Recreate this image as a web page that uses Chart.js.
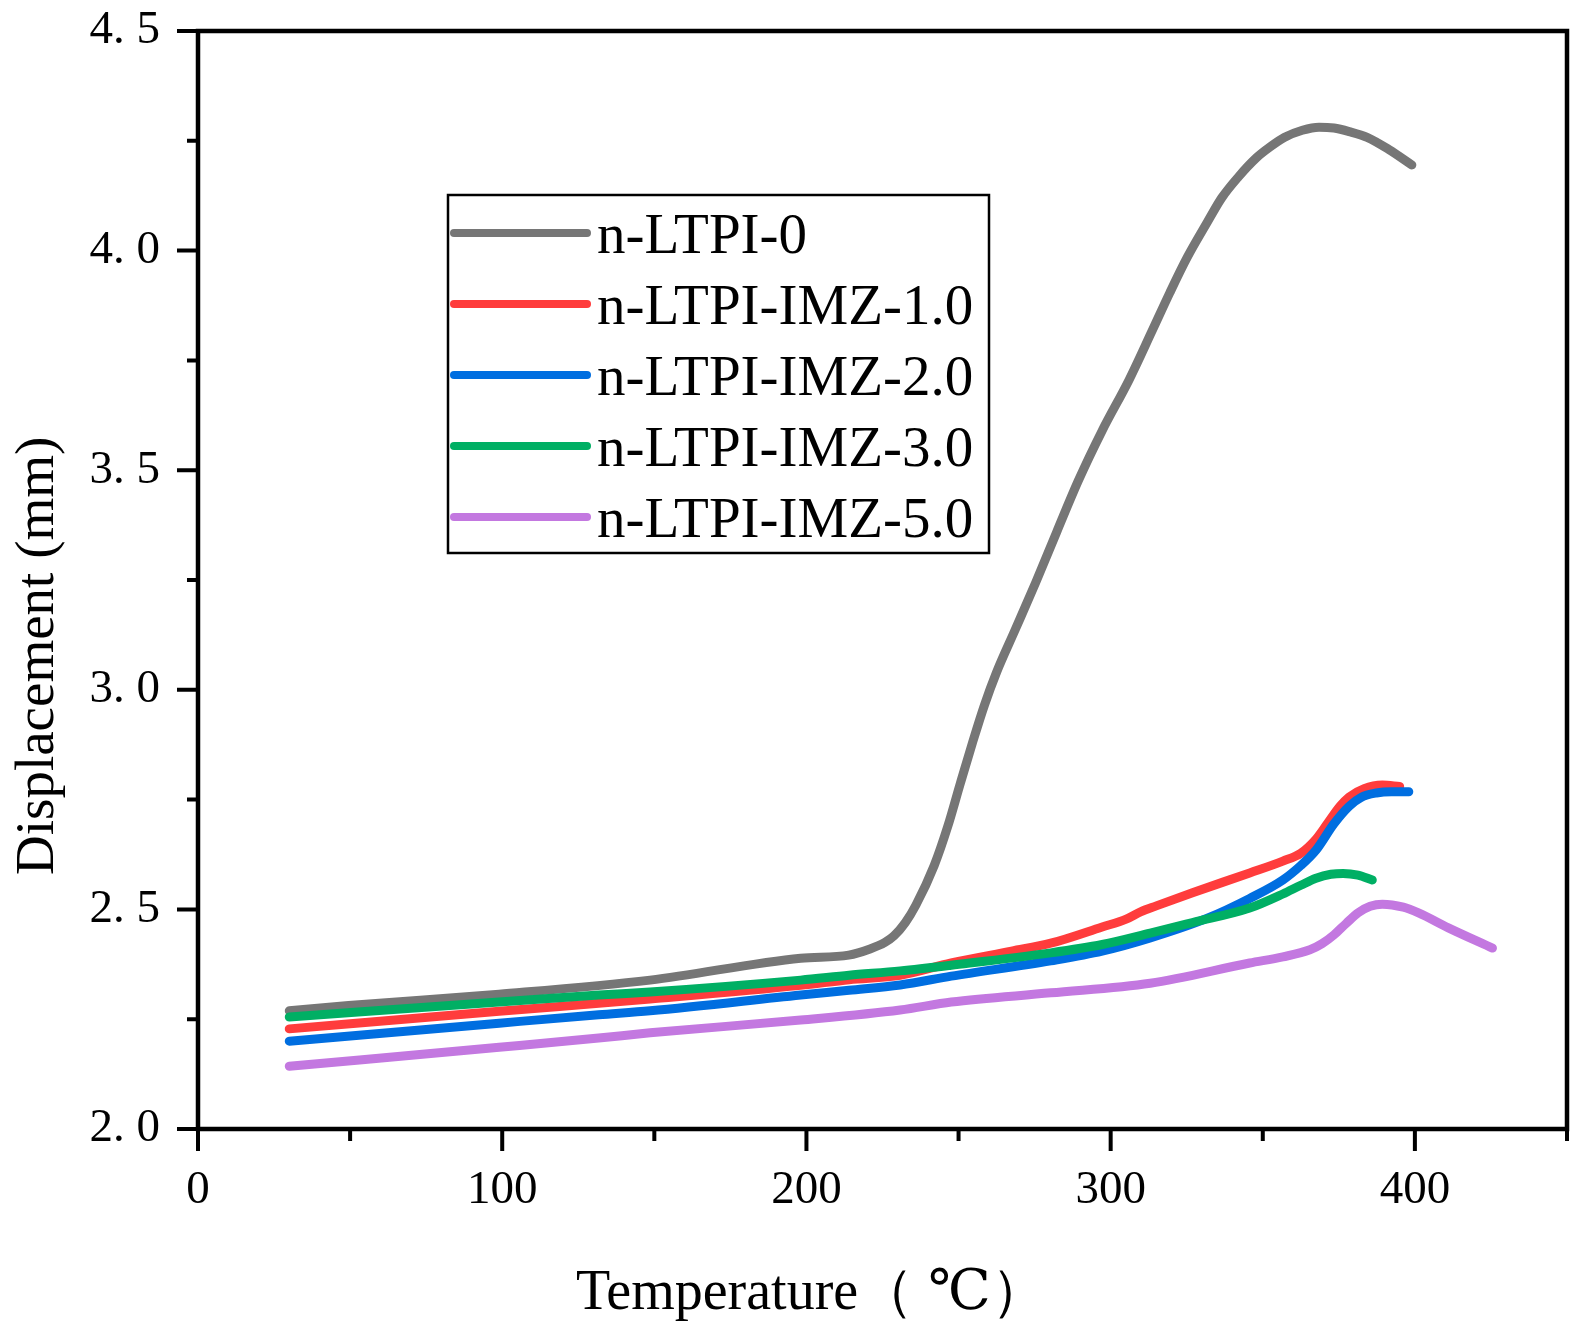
<!DOCTYPE html>
<html>
<head>
<meta charset="utf-8">
<script src="https://cdn.jsdelivr.net/npm/chart.js@4.4.1/dist/chart.umd.min.js"></script>
<style>
  html, body { margin: 0; padding: 0; background: #fff; overflow: hidden; }
  #tmaChart { display: block; }
</style>
</head>
<body>
<canvas id="tmaChart" width="1586" height="1335" style="width:1586px;height:1335px"></canvas>
<script>
// series labels
const seriesNames = ['n-LTPI-0', 'n-LTPI-IMZ-1.0', 'n-LTPI-IMZ-2.0', 'n-LTPI-IMZ-3.0', 'n-LTPI-IMZ-5.0'];
const seriesColors = ['#767676', '#FF3C3C', '#006EE0', '#00AF64', '#C378E0'];

// n-LTPI-0
const temp0 = [30, 49.5, 99, 148.6, 198.1, 213.9, 220.9, 225.8, 228.8, 232.5, 236, 242, 246.5, 250.5, 254.6, 258.5, 262.5, 268.5, 275.4, 282.3, 289.3, 297.2, 306, 313.8, 319.5, 325.2, 331.8, 336.5, 342, 347.7, 352.4, 357.2, 363, 368.5, 373.4, 378.4, 384.3, 391.5, 399];
const disp0 = [2.269, 2.281, 2.307, 2.339, 2.389, 2.396, 2.41, 2.425, 2.44, 2.47, 2.51, 2.60, 2.69, 2.785, 2.88, 2.965, 3.04, 3.135, 3.245, 3.36, 3.475, 3.59, 3.705, 3.82, 3.905, 3.985, 4.065, 4.12, 4.168, 4.21, 4.236, 4.258, 4.274, 4.281, 4.279, 4.271, 4.258, 4.23, 4.195];

// n-LTPI-IMZ-1.0
const temp1 = [30, 99, 148.6, 198.1, 214, 230.8, 247.6, 267.4, 280.3, 297.2, 305.1, 310, 315, 326.9, 345.7, 356.6, 362.5, 367.5, 371.4, 375.4, 378.4, 383.3, 389.3, 395];
const disp1 = [2.228, 2.268, 2.296, 2.327, 2.34, 2.35, 2.378, 2.405, 2.423, 2.46, 2.478, 2.495, 2.508, 2.538, 2.583, 2.61, 2.628, 2.66, 2.697, 2.735, 2.756, 2.775, 2.783, 2.78];

// n-LTPI-IMZ-2.0
const temp2 = [30, 99, 131.7, 148.6, 198.1, 214, 230.8, 247.6, 280.3, 297.2, 313, 331.8, 345.7, 356.6, 362.5, 367.5, 373.4, 378.4, 382.3, 387.3, 392.3, 398];
const disp2 = [2.200, 2.241, 2.26, 2.269, 2.305, 2.316, 2.328, 2.348, 2.383, 2.405, 2.435, 2.48, 2.525, 2.567, 2.60, 2.635, 2.695, 2.735, 2.755, 2.765, 2.768, 2.768];

// n-LTPI-IMZ-3.0
const temp3 = [30, 99, 131.7, 148.6, 198.1, 214, 230.8, 247.6, 280.3, 297.2, 313, 326.9, 345.7, 356.6, 362.5, 367.5, 372.4, 376.4, 381.3, 386];
const disp3 = [2.255, 2.289, 2.305, 2.312, 2.339, 2.35, 2.36, 2.373, 2.401, 2.42, 2.446, 2.47, 2.503, 2.535, 2.555, 2.571, 2.58, 2.582, 2.578, 2.567];

// n-LTPI-IMZ-5.0
const temp5 = [30, 99, 131.7, 148.6, 198.1, 230.8, 247.6, 280.3, 313, 345.7, 356.6, 365.5, 369.5, 373.4, 377.4, 381.3, 385.3, 389.3, 396.2, 401.2, 411, 425.5];
const disp5 = [2.143, 2.186, 2.207, 2.219, 2.248, 2.271, 2.289, 2.31, 2.332, 2.378, 2.392, 2.408, 2.422, 2.442, 2.468, 2.492, 2.507, 2.512, 2.505, 2.492, 2.458, 2.412];

// axes
const xTicks = [0, 100, 200, 300, 400];
const xTickLabels = ['0', '100', '200', '300', '400'];
const xMinor = [50, 150, 250, 350, 450];
const yTicks = [2.0, 2.5, 3.0, 3.5, 4.0, 4.5];
const yTickLabels = ['2. 0', '2. 5', '3. 0', '3. 5', '4. 0', '4. 5'];
const yMinor = [2.25, 2.75, 3.25, 3.75, 4.25];

const xTitle = 'Temperature\uFF08 \u2103\uFF09';
const yTitle = 'Displacement (mm)';

const SERIF = '"Liberation Serif", "DejaVu Serif", "Times New Roman", serif';

function pts(xs, ys) {
    return xs.map((x, i) => ({ x: x, y: ys[i] }));
}

const allTemps = [temp0, temp1, temp2, temp3, temp5];
const allDisp = [disp0, disp1, disp2, disp3, disp5];
const drawOrder = [5, 4, 3, 2, 1];

// no extra room for overhanging tick labels, the plot box is fixed
function fixBox(s) {
    s.paddingTop = 0;
    s.paddingBottom = 0;
    s.paddingLeft = 0;
    s.paddingRight = 0;
}

// frame, tick marks, axis titles and the boxed legend
const decorations = {
    id: 'decorations',
    afterDraw(chart) {
        const ctx = chart.ctx;
        const ca = chart.chartArea;
        const xs = chart.scales.x;
        const ys = chart.scales.y;

        ctx.save();
        ctx.strokeStyle = '#000';
        ctx.lineWidth = 4.5;
        ctx.strokeRect(ca.left, ca.top, ca.right - ca.left, ca.bottom - ca.top);

        ctx.lineWidth = 4;
        ctx.beginPath();
        xTicks.forEach(v => { const p = xs.getPixelForValue(v); ctx.moveTo(p, ca.bottom); ctx.lineTo(p, ca.bottom + 22); });
        xMinor.forEach(v => { const p = xs.getPixelForValue(v); ctx.moveTo(p, ca.bottom); ctx.lineTo(p, ca.bottom + 12); });
        yTicks.forEach(v => { const p = ys.getPixelForValue(v); ctx.moveTo(ca.left, p); ctx.lineTo(ca.left - 21, p); });
        yMinor.forEach(v => { const p = ys.getPixelForValue(v); ctx.moveTo(ca.left, p); ctx.lineTo(ca.left - 11, p); });
        ctx.stroke();

        // axis titles
        ctx.fillStyle = '#000';
        ctx.font = '56px ' + SERIF;
        ctx.textAlign = 'left';
        ctx.textBaseline = 'alphabetic';
        ctx.fillText(xTitle, ca.left + 378, ca.bottom + 180);

        ctx.save();
        ctx.translate(53, ca.bottom - 254);
        ctx.rotate(-Math.PI / 2);
        ctx.font = '55px ' + SERIF;
        ctx.fillText(yTitle, 0, 0);
        ctx.restore();

        // legend
        const lx = ca.left + 250, ly = ca.top + 164, lw = 541, lh = 358;
        ctx.fillStyle = '#fff';
        ctx.fillRect(lx, ly, lw, lh);
        ctx.strokeStyle = '#000';
        ctx.lineWidth = 2.5;
        ctx.strokeRect(lx, ly, lw, lh);
        ctx.lineCap = 'round';
        chart.data.datasets.forEach((ds, i) => {
            const ry = ly + 38 + i * 71;
            ctx.strokeStyle = ds.borderColor;
            ctx.lineWidth = 8;
            ctx.beginPath();
            ctx.moveTo(lx + 6, ry);
            ctx.lineTo(lx + 139, ry);
            ctx.stroke();
            ctx.fillStyle = '#000';
            ctx.font = '57px ' + SERIF;
            ctx.fillText(ds.label, lx + 149, ry + 20);
        });
        ctx.restore();
    }
};

const ctx = document.getElementById('tmaChart');

new Chart(ctx, {
    type: 'line',
    data: {
        datasets: seriesNames.map((name, i) => ({
            label: name,
            data: pts(allTemps[i], allDisp[i]),
            borderColor: seriesColors[i],
            backgroundColor: seriesColors[i],
            borderWidth: 9,
            borderCapStyle: 'round',
            borderJoinStyle: 'round',
            pointRadius: 0,
            cubicInterpolationMode: 'monotone',
            fill: false,
            order: drawOrder[i],
        }))
    },
    options: {
        responsive: false,
        animation: false,
        devicePixelRatio: 1,
        layout: {
            padding: { top: 31, right: 19, left: 0, bottom: 0 }
        },
        plugins: {
            legend: { display: false },
            tooltip: { enabled: false },
        },
        scales: {
            x: {
                type: 'linear',
                min: 0,
                max: 450,
                afterBuildTicks: s => { s.ticks = xTicks.map(v => ({ value: v })); },
                afterFit: s => { s.height = 206; fixBox(s); },
                grid: { display: false, drawTicks: false, tickLength: 0 },
                border: { display: false },
                ticks: {
                    color: '#000',
                    font: { family: SERIF, size: 47 },
                    padding: 33,
                    maxRotation: 0,
                    autoSkip: false,
                    callback: (v, i) => xTickLabels[i],
                },
            },
            y: {
                type: 'linear',
                min: 2.0,
                max: 4.5,
                afterBuildTicks: s => { s.ticks = yTicks.map(v => ({ value: v })); },
                afterFit: s => { s.width = 198; fixBox(s); },
                grid: { display: false, drawTicks: false, tickLength: 0 },
                border: { display: false },
                ticks: {
                    color: '#000',
                    font: { family: SERIF, size: 47 },
                    padding: 38,
                    autoSkip: false,
                    callback: (v, i) => yTickLabels[i],
                },
            }
        }
    },
    plugins: [decorations]
});
</script>
</body>
</html>
